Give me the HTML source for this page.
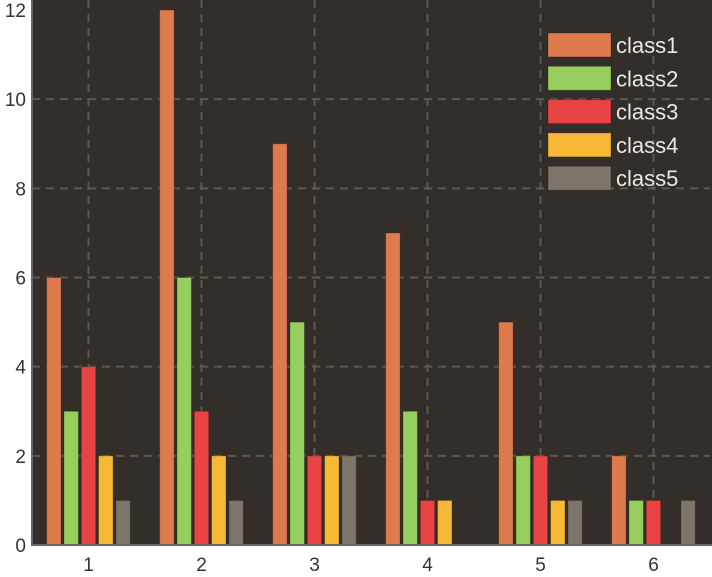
<!DOCTYPE html>
<html><head><meta charset="utf-8"><style>
html,body{margin:0;padding:0;background:#fff;}
svg{display:block;font-family:"Liberation Sans",Arial,sans-serif;}
</style></head><body>
<svg id="chart" width="712" height="577"></svg>
<script>
const categories=["1","2","3","4","5","6"];
const seriesNames=["class1","class2","class3","class4","class5"];
const class1=[6,12,9,7,5,2];
const class2=[3,6,5,3,2,1];
const class3=[4,3,2,1,2,1];
const class4=[2,2,2,1,1,0];
const class5=[1,1,2,0,1,1];
const yTicks=[0,2,4,6,8,10,12];
const colors=["#df7a4e","#96cf5d","#e84444","#f6b935","#7b756a"];
const series=[class1,class2,class3,class4,class5];
const NS="http://www.w3.org/2000/svg";
const svg=document.getElementById("chart");
const L=32,R=710,T=10,B=545,yMax=12;
const band=(R-L)/categories.length;
function y(v){return B-(v/yMax)*(B-T);}
function xc(i){return L+band*(i+0.5);}
function mk(tag,attrs,parent){const e=document.createElementNS(NS,tag);for(const k in attrs)e.setAttribute(k,attrs[k]);(parent||svg).appendChild(e);return e;}
const bg=mk("rect",{x:L,y:0,width:R-L+2,height:B,fill:"#332e29"});


yTicks.forEach(t=>{
  if(t>0&&t<yMax){const g=mk("line",{x1:L,x2:R,y1:y(t),y2:y(t),stroke:"#5d5852","stroke-width":2,"stroke-dasharray":"8,6"});
  
  }
  const tx=mk("text",{x:L-6,y:y(t)+7,"text-anchor":"end","font-size":19,fill:"#333"});
  tx.textContent=t;
  
  
});
categories.forEach((c,i)=>{
  const g=mk("line",{x1:xc(i),x2:xc(i),y1:0,y2:B,stroke:"#5d5852","stroke-width":2,"stroke-dasharray":"8,6"});
  
  
  const tx=mk("text",{x:xc(i),y:B+26,"text-anchor":"middle","font-size":19,fill:"#333"});
  tx.textContent=c;
  
  
});
const step=17.3,bw=14.5;
series.forEach((s,k)=>{
  s.forEach((v,i)=>{
    if(v<=0)return;
    const x=xc(i)+(k-2)*step-bw/2;
    const r=mk("rect",{x:x,y:y(v),width:bw,height:B-y(v),fill:colors[k],stroke:"rgba(0,0,0,0.25)","stroke-width":1});
    
    
  });
});
const ax=mk("path",{d:`M${L},0 V${B} H${R+2}`,fill:"none",stroke:"#666","stroke-width":2});


seriesNames.forEach((n,k)=>{
  const g=mk("g",{});
  
  
  const yy=33+k*33.3;
  mk("rect",{x:548,y:yy,width:63,height:24,fill:colors[k],stroke:"rgba(0,0,0,0.25)","stroke-width":1},g);
  const t=mk("text",{x:616,y:yy+20,"font-size":22,fill:"#e8e8e8"},g);
  t.textContent=n;
});
</script>
</body></html>
